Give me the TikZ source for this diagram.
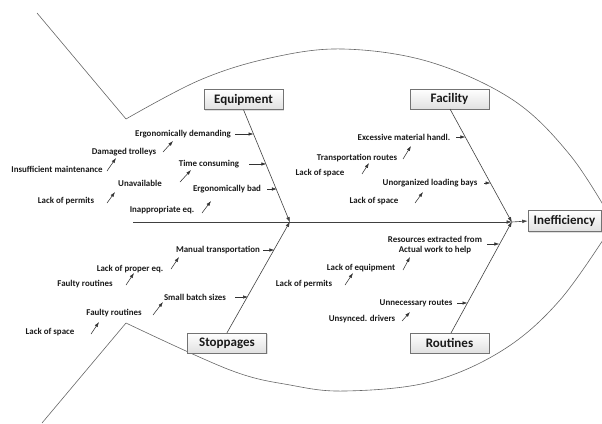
\documentclass[tikz,border=0pt]{standalone}
\usepackage{fontspec}
\setmainfont{Carlito}
\usetikzlibrary{arrows.meta,shadows}
\begin{document}
\begin{tikzpicture}[x=1pt,y=-1pt,
  outline/.style={draw=black!60, line width=0.6pt},
  bone/.style={draw=black!75, line width=0.6pt, -{Latex[length=5.5pt,width=3.6pt]}},
  arr/.style={draw=black!80, line width=0.55pt, -{Latex[length=5pt,width=3.4pt]}},
  lbl/.style={font=\fontsize{8.9}{10}\selectfont\bfseries, text=black!90, inner sep=0pt, align=center},
  cat/.style={draw=black!55, line width=0.5pt, top color=white, bottom color=black!12,
    minimum width=79pt, minimum height=20pt, inner sep=0pt,
    font=\fontsize{13}{14}\selectfont\bfseries, text=black!90,
    drop shadow={opacity=0.25, shadow xshift=1.2pt, shadow yshift=-1.2pt}}
]
\useasboundingbox (0,0) rectangle (602,423);
\begin{scope}
\clip (0,0) rectangle (602,423);
% fish outline
\draw[outline] (37,13) -- (126,119);
\draw[outline] plot[smooth, tension=0.6] coordinates {(126,119) (200,80) (270,58) (343,49) (430,62) (513,100) (570,155) (612,220)};
\draw[outline] (42,423) -- (126,323);
\draw[outline] plot[smooth, tension=0.6] coordinates {(126,323) (230,370) (290,385) (345,391) (430,382) (503,350) (560,300) (612,226)};
\end{scope}

% category boxes
\node[cat] (equip) at (243.5,99.5) {Equipment};
\node[cat] (facil) at (449.5,99) {Facility};
\node[cat] (stopp) at (227,343) {Stoppages};
\node[cat] (rout) at (449.5,343) {Routines};
\node[cat, minimum width=73pt, minimum height=21pt] (ineff) at (564.5,221) {Inefficiency};

% spine and bones
\coordinate (tail) at (133,222);
\coordinate (j1) at (290,222);
\coordinate (j2) at (512,222);
\draw[bone] (tail) -- (j2);
\draw[bone] (j2) -- (ineff.west);
\draw[bone] (equip.south) -- ([yshift=-0.5pt]j1);
\draw[bone] (stopp.north) -- ([yshift=0.5pt]j1);
\draw[bone] (450,109) -- ([yshift=-0.5pt]j2);
\draw[bone] (451,333) -- ([yshift=0.5pt]j2);

% Equipment causes
\node[lbl] (e1) at (183,134) {Ergonomically demanding};
\draw[arr] (235,134) -- (253.6,134);
\node[lbl] (e2) at (209,164) {Time consuming};
\draw[arr] (249,164) -- (266.3,164);
\node[lbl] (e3) at (227,189) {Ergonomically bad};
\draw[arr] (267,189) -- (276.9,189);
\node[lbl] (e4) at (124,152) {Damaged trolleys};
\draw[arr] (163,152) -- (173,141);
\node[lbl] (e5) at (57,169) {Insufficient maintenance};
\draw[arr] (107,171) -- (116,158);
\node[lbl] (e6) at (140,183) {Unavailable};
\draw[arr] (180,182) -- (191,170);
\node[lbl] (e7) at (66,201) {Lack of permits};
\draw[arr] (107,203) -- (115,192);
\node[lbl] (e8) at (162,210) {Inappropriate eq.};
\draw[arr] (202,213) -- (211,201);

% Facility causes
\node[lbl] (f1) at (404,137) {Excessive material handl.};
\draw[arr] (456,137) -- (465.4,137);
\node[lbl] (f2) at (357,158) {Transportation routes};
\draw[arr] (403,159) -- (411,146);
\node[lbl] (f3) at (320,173) {Lack of space};
\draw[arr] (362,174) -- (369,163);
\node[lbl] (f4) at (430,183) {Unorganized loading bays};
\draw[arr] (484,183) -- (490.6,183);
\node[lbl] (f5) at (374,201) {Lack of space};
\draw[arr] (415,203) -- (423,192);

% Stoppages causes
\node[lbl] (s1) at (218,250) {Manual transportation};
\draw[arr] (263,250) -- (274.4,250);
\node[lbl] (s2) at (130,269) {Lack of proper eq.};
\draw[arr] (171,269) -- (179,257);
\node[lbl] (s3) at (85,284) {Faulty routines};
\draw[arr] (126,285) -- (134,273);
\node[lbl] (s4) at (195,297) {Small batch sizes};
\draw[arr] (235,297) -- (248,297);
\node[lbl] (s5) at (114,313) {Faulty routines};
\draw[arr] (153,315) -- (163,302);
\node[lbl] (s6) at (50,332) {Lack of space};
\draw[arr] (91,334) -- (99,322);

% Routines causes
\node[lbl] (r1) at (435,245.5) {Resources extracted from\\Actual work to help};
\draw[arr] (487,244) -- (499.4,244);
\node[lbl] (r2) at (361,268) {Lack of equipment};
\draw[arr] (403,270) -- (410,257);
\node[lbl] (r3) at (304,284) {Lack of permits};
\draw[arr] (345,285) -- (353,273);
\node[lbl] (r4) at (416,303) {Unnecessary routes};
\draw[arr] (457,303) -- (467.5,303);
\node[lbl] (r5) at (362,319) {Unsynced. drivers};
\draw[arr] (402,321) -- (410,312);
\end{tikzpicture}
\end{document}
